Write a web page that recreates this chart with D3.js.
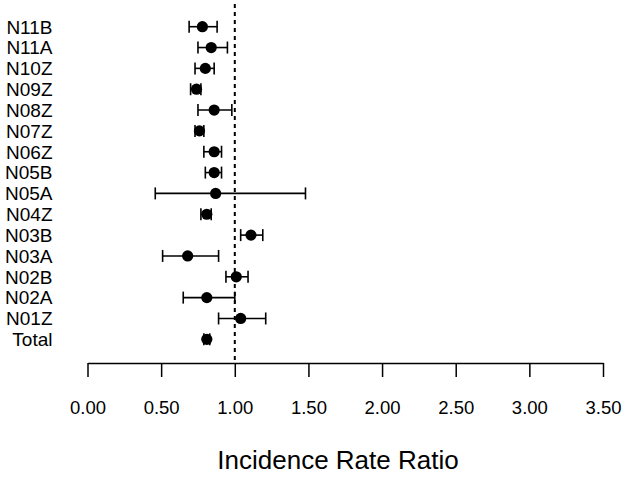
<!DOCTYPE html>
<html>
<head>
<meta charset="utf-8">
<script src="https://cdn.jsdelivr.net/npm/d3@7"></script>
<style>
  body { margin:0; background:#fff; }
  text { font-family: Arial, "Liberation Sans", sans-serif; fill:#000; }
</style>
</head>
<body>
<svg id="chart"></svg>
<script>
const groups = ["N11B","N11A","N10Z","N09Z","N08Z","N07Z","N06Z","N05B","N05A","N04Z","N03B","N03A","N02B","N02A","N01Z","Total"];
const irr   = [0.78,0.84,0.80,0.74,0.86,0.76,0.86,0.86,0.87,0.81,1.11,0.68,1.01,0.81,1.04,0.81];
const lower = [0.69,0.75,0.73,0.70,0.75,0.73,0.79,0.80,0.46,0.77,1.04,0.51,0.94,0.65,0.89,0.79];
const upper = [0.88,0.95,0.86,0.77,0.98,0.79,0.91,0.91,1.48,0.84,1.19,0.89,1.09,1.00,1.21,0.83];
const xTicks = [0,0.5,1,1.5,2,2.5,3,3.5];

const W = 624, H = 480;
const rows = groups.map((g,i)=>({group:g, irr:irr[i], lo:lower[i], hi:upper[i]}));

const svg = d3.select("#chart")
  .attr("width",W)
  .attr("height",H);

const x = d3.scaleLinear()
  .domain([0,3.5])
  .range([87.5,603]);

const y = d3.scalePoint()
  .domain(groups)
  .range([26.7,339.3]);

const axisY = 363;

// reference line at 1
svg.append("line")
  .attr("x1",x(1)).attr("x2",x(1))
  .attr("y1",4).attr("y2",axisY)
  .attr("stroke","#000")
  .attr("stroke-width",2)
  .attr("stroke-dasharray","4,4");

// x axis
const ax = svg.append("g")
  .attr("transform",`translate(0,${axisY})`)
  .call(
    d3.axisBottom(x)
      .tickValues(xTicks)
      .tickSize(14)
      .tickPadding(24)
      .tickSizeOuter(0)
      .tickFormat(d3.format(".2f"))
  );
ax.select(".domain").attr("stroke","#000").attr("stroke-width",1.5);
ax.selectAll(".tick line").attr("stroke","#000").attr("stroke-width",1.5);
ax.selectAll(".tick text")
  .style("font-family","Arial, 'Liberation Sans', sans-serif")
  .style("font-size","18.5px")
  .attr("fill","#000");

// axis title
svg.append("text")
  .attr("x",338)
  .attr("y",469)
  .attr("text-anchor","middle")
  .style("font-size","26px")
  .text("Incidence Rate Ratio");

// row labels
svg.selectAll(".lab")
  .data(rows)
  .join("text")
  .attr("class","lab")
  .attr("x",52.5)
  .attr("y",d=>y(d.group))
  .attr("dy","0.36em")
  .attr("text-anchor","end")
  .style("font-size","19px")
  .text(d=>d.group);

// CI lines
const capH = 6;
const ci = svg.append("g")
  .attr("stroke","#000")
  .attr("stroke-width",1.6);

ci.selectAll(".ci")
  .data(rows)
  .join("line")
  .attr("x1",d=>x(d.lo))
  .attr("x2",d=>x(d.hi))
  .attr("y1",d=>y(d.group))
  .attr("y2",d=>y(d.group));

ci.selectAll(".capl")
  .data(rows)
  .join("line")
  .attr("class","capl")
  .attr("x1",d=>x(d.lo))
  .attr("x2",d=>x(d.lo))
  .attr("y1",d=>y(d.group)-capH)
  .attr("y2",d=>y(d.group)+capH);

ci.selectAll(".caph")
  .data(rows)
  .join("line")
  .attr("class","caph")
  .attr("x1",d=>x(d.hi))
  .attr("x2",d=>x(d.hi))
  .attr("y1",d=>y(d.group)-capH)
  .attr("y2",d=>y(d.group)+capH);

// points
svg.selectAll(".pt")
  .data(rows)
  .join("circle")
  .attr("class","pt")
  .attr("cx",d=>x(d.irr))
  .attr("cy",d=>y(d.group))
  .attr("r",5.6)
  .attr("fill","#000");
</script>
</body>
</html>
